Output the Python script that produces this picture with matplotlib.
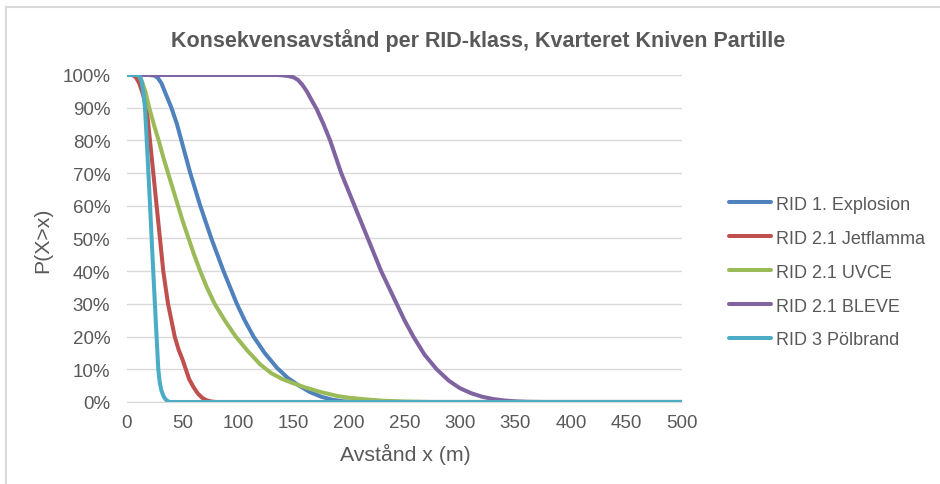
import matplotlib
matplotlib.use('Agg')
import matplotlib.pyplot as plt
from matplotlib.lines import Line2D
from matplotlib.ticker import PercentFormatter

plt.rcParams['font.family'] = ['Liberation Sans', 'DejaVu Sans']

# Values (x in metres, P(X>x) in %)
explosion_x = [0, 20, 25, 28, 31, 34, 37, 40, 45, 49, 53, 57, 61.5, 66, 71, 76, 81.5, 87, 93, 99,
               106, 114, 124, 135, 145, 155, 165, 175, 185, 195, 205, 500]
explosion_y = [100, 100, 99.8, 99, 97.5, 95, 92.5, 90, 85, 80, 75, 70, 65, 60, 55, 50, 45, 40, 35, 30,
               25, 20, 15, 10.5, 7.3, 5, 3, 1.6, 0.7, 0.2, 0, 0]

jet_x = [0, 5, 8, 11, 14, 16, 17.7, 19, 20.7, 22.2, 23.7, 25.2, 26.7, 28.2, 29.7, 31.2, 32.7, 34.8,
         37, 40, 43, 46.5, 50, 53, 56, 60, 64, 68, 72, 76, 80, 500]
jet_y = [100, 100, 99.3, 97.5, 94.5, 92, 90, 85.5, 80, 75, 70, 65, 60, 55, 50, 45, 40, 35,
         30, 25, 20, 16, 13, 10, 7, 4.5, 2.5, 1.2, 0.5, 0.15, 0, 0]

uvce_x = [0, 9, 11, 13.5, 16.5, 20, 24.5, 28.5, 33, 37, 41.5, 46, 50.5, 55.5, 60.5, 66, 72, 79, 88, 98,
          109, 120, 130, 140, 150, 160, 175, 190, 200, 215, 230, 250, 275, 500]
uvce_y = [100, 100, 99.7, 98, 95, 90, 84.5, 80, 74.5, 70, 65, 60, 55, 50, 45, 40, 35, 30, 25, 20,
          15.5, 11.5, 8.8, 7, 5.7, 4.5, 3, 1.8, 1.3, 0.8, 0.4, 0.15, 0, 0]

bleve_x = [0, 135, 140, 145, 150, 154, 158, 162, 166, 171, 177, 183, 188, 193, 199, 205, 211, 217,
           223, 229, 236, 243, 250, 258, 268, 279, 290, 300, 310, 320, 330, 340, 350, 360, 375, 500]
bleve_y = [100, 100, 99.9, 99.7, 99.3, 98.5, 97, 95, 92.5, 89.5, 85, 80, 75, 70, 65, 60, 55, 50,
           45, 40, 35, 30, 25, 20, 14.5, 10, 6.5, 4.2, 2.7, 1.6, 0.9, 0.45, 0.2, 0.07, 0, 0]

pool_x = [0, 10, 12, 13.5, 15, 16.2, 17.5, 19, 20.5, 22.2, 23.5, 25, 26.5, 28.2, 29.5, 31, 33, 35,
          37, 39, 500]
pool_y = [100, 100, 99.3, 97.5, 94, 90, 82, 72, 62, 50, 41, 31, 21, 10, 6, 3.5, 1.7, 0.7,
          0.2, 0, 0]

series = [
    ('RID 1. Explosion', explosion_x, explosion_y, '#4F81BD'),
    ('RID 2.1 Jetflamma', jet_x, jet_y, '#C0504D'),
    ('RID 2.1 UVCE', uvce_x, uvce_y, '#9BBB59'),
    ('RID 2.1 BLEVE', bleve_x, bleve_y, '#8064A2'),
    ('RID 3 Pölbrand', pool_x, pool_y, '#4BACC6'),
]

text_col = '#595959'
grid_col = '#D9D9D9'

fig = plt.figure(figsize=(9.4, 4.85), dpi=100)
ax = fig.add_axes([0.1351, 0.1691, 0.5904, 0.6742])

for name, xs, ys, col in series:
    ax.plot(xs, ys, color=col, linewidth=2.9, label=name,
            solid_capstyle='round', solid_joinstyle='round', zorder=3)

ax.set_xlim(0, 500)
ax.set_ylim(0, 100)
ax.set_xticks(range(0, 501, 50))
ax.set_yticks(range(0, 101, 10))
ax.yaxis.set_major_formatter(PercentFormatter(decimals=0))
ax.grid(axis='y', color=grid_col, linewidth=1)
ax.set_axisbelow(True)
for side in ['top', 'right', 'left']:
    ax.spines[side].set_visible(False)
ax.spines['bottom'].set_color(grid_col)
ax.tick_params(length=0, labelsize=13.5, colors=text_col)
ax.tick_params(axis='y', pad=12)
ax.tick_params(axis='x', pad=9)

fig.text(0.5085, 0.917, 'Konsekvensavstånd per RID-klass, Kvarteret Kniven Partille',
         ha='center', va='center', fontsize=15.5, fontweight='bold', color=text_col)
fig.text(0.4309, 0.062, 'Avstånd x (m)', ha='center', va='center', fontsize=15.3, color=text_col)
fig.text(0.046, 0.505, 'P(X>x)', ha='center', va='center', rotation=90, fontsize=15.3, color=text_col)

leg = ax.legend(loc='center left', bbox_to_anchor=(0.7755, 0.437), bbox_transform=fig.transFigure,
                frameon=False, fontsize=13, handlelength=2.33, handletextpad=0.3,
                labelspacing=0.94, labelcolor=text_col, borderaxespad=0, borderpad=0)

# light border of the chart area (left and top only visible)
fig.add_artist(Line2D([0.0069, 0.0069], [0, 0.9835], color=grid_col, linewidth=1.5))
fig.add_artist(Line2D([0.0069, 1.0], [0.9835, 0.9835], color=grid_col, linewidth=1.5))

fig.savefig('out.png', dpi=100)
